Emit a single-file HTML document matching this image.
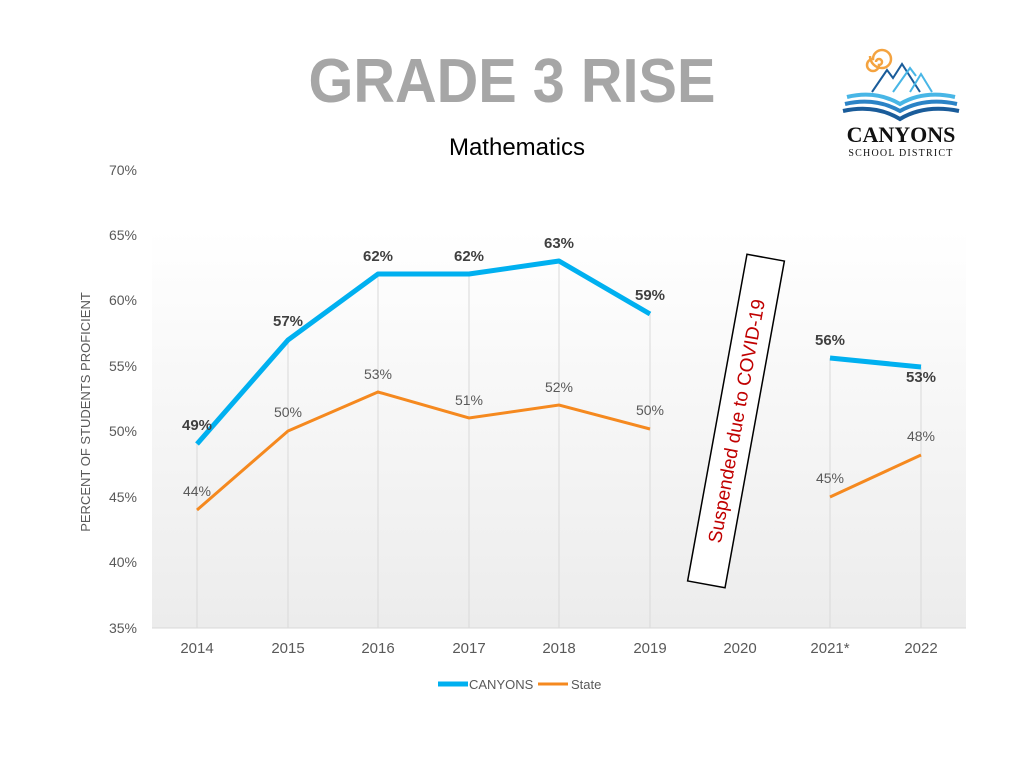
<!DOCTYPE html>
<html><head><style>body{margin:0;background:#fff;}svg{display:block}</style></head><body>
<svg width="1024" height="768" xmlns="http://www.w3.org/2000/svg" font-family="Liberation Sans, sans-serif">
<defs><linearGradient id="bg" x1="0" y1="0" x2="0" y2="1"><stop offset="0" stop-color="#ffffff"/><stop offset="1" stop-color="#ececec"/></linearGradient></defs>
<rect x="152" y="230" width="814" height="398" fill="url(#bg)"/>
<text x="512" y="102" text-anchor="middle" font-size="62" font-weight="bold" fill="#a6a6a6" transform="translate(512 0) scale(0.93 1) translate(-512 0)">GRADE 3 RISE</text>
<text x="517" y="155" text-anchor="middle" font-size="24" fill="#000">Mathematics</text>
<g font-size="14" fill="#595959" text-anchor="end">
<text x="137" y="175">70%</text><text x="137" y="240">65%</text><text x="137" y="305">60%</text><text x="137" y="371">55%</text><text x="137" y="436">50%</text><text x="137" y="502">45%</text><text x="137" y="567">40%</text><text x="137" y="633">35%</text>
</g>
<text transform="translate(90 412) rotate(-90)" text-anchor="middle" font-size="13" fill="#595959">PERCENT OF STUDENTS PROFICIENT</text>
<g stroke="#d9d9d9" stroke-width="1">
<line x1="197" y1="444" x2="197" y2="628"/><line x1="288" y1="340" x2="288" y2="628"/><line x1="378" y1="274" x2="378" y2="628"/><line x1="469" y1="274" x2="469" y2="628"/><line x1="559" y1="261" x2="559" y2="628"/><line x1="650" y1="314" x2="650" y2="628"/><line x1="830" y1="358" x2="830" y2="628"/><line x1="921" y1="367" x2="921" y2="628"/>
<line x1="152" y1="628" x2="966" y2="628"/>
</g>
<g font-size="15" fill="#595959" text-anchor="middle">
<text x="197" y="653">2014</text><text x="288" y="653">2015</text><text x="378" y="653">2016</text><text x="469" y="653">2017</text><text x="559" y="653">2018</text><text x="650" y="653">2019</text><text x="740" y="653">2020</text><text x="830" y="653">2021*</text><text x="921" y="653">2022</text>
</g>
<polyline points="197,510 288,431 378,392 469,418 559,405 650,429" fill="none" stroke="#f5891f" stroke-width="3"/>
<line x1="830" y1="497" x2="921" y2="455" stroke="#f5891f" stroke-width="3"/>
<polyline points="197,444 288,340 378,274 469,274 559,261 650,314" fill="none" stroke="#00b0f0" stroke-width="5" stroke-linejoin="round"/>
<line x1="830" y1="358" x2="921" y2="367" stroke="#00b0f0" stroke-width="5"/>
<g font-size="14" fill="#595959" text-anchor="middle">
<text x="197" y="496">44%</text><text x="288" y="417">50%</text><text x="378" y="379">53%</text><text x="469" y="405">51%</text><text x="559" y="392">52%</text><text x="650" y="415">50%</text><text x="830" y="483">45%</text><text x="921" y="441">48%</text>
</g>
<g font-size="15" font-weight="bold" fill="#404040" text-anchor="middle">
<text x="197" y="430">49%</text><text x="288" y="326">57%</text><text x="378" y="261">62%</text><text x="469" y="261">62%</text><text x="559" y="248">63%</text><text x="650" y="300">59%</text><text x="830" y="345">56%</text><text x="921" y="382">53%</text>
</g>
<g transform="translate(736 421) rotate(-79.7)">
<rect x="-166" y="-19" width="332" height="38" fill="#fff" stroke="#000" stroke-width="1.5"/>
<text x="0" y="7" text-anchor="middle" font-size="19" fill="#c00000">Suspended due to COVID-19</text>
</g>
<line x1="438" y1="684" x2="468" y2="684" stroke="#00b0f0" stroke-width="5"/>
<text x="469" y="689" font-size="13" fill="#595959">CANYONS</text>
<line x1="538" y1="684" x2="568" y2="684" stroke="#f5891f" stroke-width="3"/>
<text x="571" y="689" font-size="13" fill="#595959">State</text>
<g>
<path d="M876 62 a3 3 0 1 1 3 3 a6 6 0 1 1 -6 -6 a9 9 0 1 1 9 9 a12 12 0 0 1 -12 -12" fill="none" stroke="#f4a340" stroke-width="2.5"/>
<polyline points="872,92 887,70 893,78 902,64 920,92" fill="none" stroke="#1a5c9a" stroke-width="2"/>
<polyline points="893,92 910,68 916,76" fill="none" stroke="#48b6e6" stroke-width="2"/>
<polyline points="910,92 921,74 932,92" fill="none" stroke="#48b6e6" stroke-width="2"/>
<path d="M847 97 Q876 90 900 104 Q924 90 955 97" fill="none" stroke="#48b6e6" stroke-width="4"/>
<path d="M845 104 Q875 97 900 111 Q925 97 957 104" fill="none" stroke="#2b83c6" stroke-width="4"/>
<path d="M843 111 Q875 104 900 119 Q925 104 959 111" fill="none" stroke="#1a5c9a" stroke-width="4"/>
<text x="901" y="142" text-anchor="middle" font-family="Liberation Serif, serif" font-size="22" font-weight="bold" fill="#111">CANYONS</text>
<text x="901" y="156" text-anchor="middle" font-family="Liberation Serif, serif" font-size="10" fill="#111" letter-spacing="1.2">SCHOOL DISTRICT</text>
</g>
</svg>
</body></html>
